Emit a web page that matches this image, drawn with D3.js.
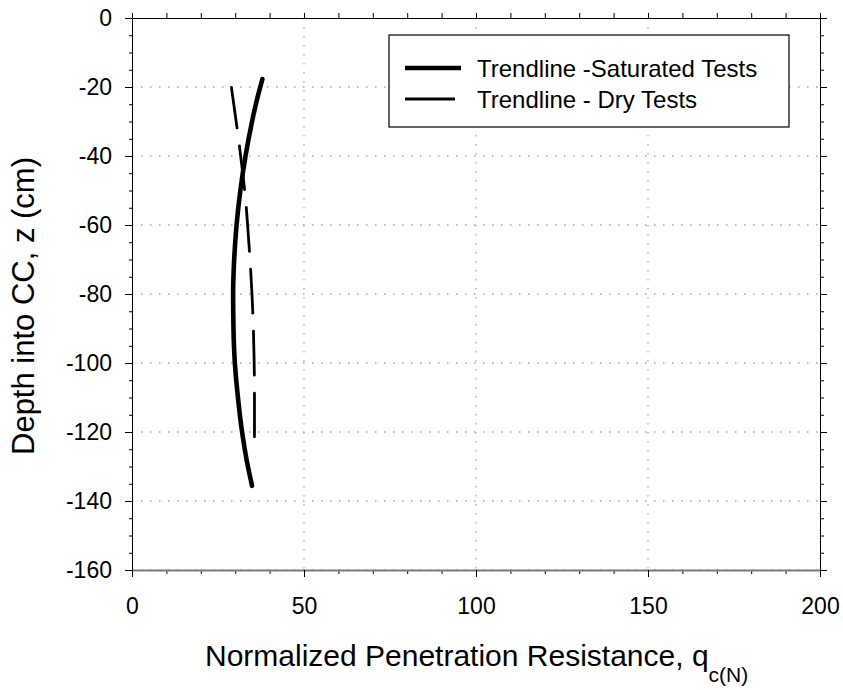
<!DOCTYPE html>
<html>
<head>
<meta charset="utf-8">
<script src="https://cdn.jsdelivr.net/npm/d3@7"></script>
<style>
  body { margin: 0; background: #fff; }
  text { font-family: "Liberation Sans", Arial, sans-serif; fill: #000; }
</style>
</head>
<body>
<div id="chart"></div>
<script>
const satDepth = [-17.7, -25, -30, -40, -50, -60, -70, -80, -90, -100, -110, -120, -128, -135.6];
const satQ     = [37.9, 36.0, 34.9, 33.0, 31.5, 30.4, 29.7, 29.4, 29.5, 29.9, 30.8, 32.0, 33.3, 34.9];

const dryDepth = [-20.1, -32.3, -45, -53.5, -60, -70, -85, -99, -110, -121.4];
const dryQ     = [28.9, 30.6, 32.2, 33.1, 33.6, 34.3, 35.1, 35.5, 35.6, 35.6];

const xTicks = [0, 50, 100, 150, 200];
const yTicks = [0, -20, -40, -60, -80, -100, -120, -140, -160];
const legendLabels = ["Trendline -Saturated Tests", "Trendline - Dry Tests"];

const margin = { top: 18, right: 23, bottom: 120, left: 132 };
const width = 843 - margin.left - margin.right;
const height = 690 - margin.top - margin.bottom;

const svg = d3.select("#chart")
  .append("svg")
  .attr("width", 843)
  .attr("height", 690);

const g = svg.append("g")
  .attr("transform", `translate(${margin.left},${margin.top})`);

const x = d3.scaleLinear().domain([0, 200]).range([0, width]);
const y = d3.scaleLinear().domain([-160, 0]).range([height, 0]);

// dotted grid
g.append("g")
  .selectAll("line")
  .data(yTicks.filter(d => d < 0))
  .enter()
  .append("line")
  .attr("x1", 0).attr("x2", width)
  .attr("y1", d => y(d)).attr("y2", d => y(d))
  .style("stroke", "#a8a8a8")
  .style("stroke-width", 1.3)
  .style("stroke-dasharray", "1.5,7.5");

g.append("g")
  .selectAll("line")
  .data(xTicks.filter(d => d > 0 && d < 200))
  .enter()
  .append("line")
  .attr("x1", d => x(d)).attr("x2", d => x(d))
  .attr("y1", 0).attr("y2", height)
  .style("stroke", "#a8a8a8")
  .style("stroke-width", 1.3)
  .style("stroke-dasharray", "1.5,7.5");

// axes: major + minor ticks on all four sides
const minorX = d3.range(0, 201, 10);
const minorY = d3.range(-160, 1, 5);
const plain = d => String(d);

function styleAxis(sel, color) {
  sel.select(".domain").style("stroke", color);
  sel.selectAll(".tick line").style("stroke", "#000");
  sel.selectAll("text")
    .style("font-size", "23px")
    .style("font-family", "Liberation Sans, Arial, sans-serif");
}

const bottomMinor = g.append("g")
  .attr("transform", `translate(0,${height})`)
  .call(d3.axisBottom(x).tickValues(minorX).tickSize(4).tickFormat(""));
bottomMinor.select(".domain").remove();

const bottomAxis = g.append("g")
  .attr("transform", `translate(0,${height})`)
  .call(d3.axisBottom(x).tickValues(xTicks).tickSize(7).tickSizeOuter(0)
    .tickPadding(21).tickFormat(plain));
styleAxis(bottomAxis, "#7a7a7a");
bottomAxis.select(".domain").style("stroke-width", 2);

const topAxis = g.append("g")
  .call(d3.axisTop(x).tickValues(minorX).tickSize(5).tickSizeOuter(0).tickFormat(""));
styleAxis(topAxis, "#000");

const leftMinor = g.append("g")
  .call(d3.axisLeft(y).tickValues(minorY).tickSize(3).tickFormat(""));
leftMinor.select(".domain").remove();

const leftAxis = g.append("g")
  .call(d3.axisLeft(y).tickValues(yTicks).tickSize(7).tickSizeOuter(0)
    .tickPadding(13).tickFormat(plain));
styleAxis(leftAxis, "#000");

const rightAxis = g.append("g")
  .attr("transform", `translate(${width},0)`)
  .call(d3.axisRight(y).tickValues(minorY).tickSize(4).tickSizeOuter(0).tickFormat(""));
styleAxis(rightAxis, "#000");

g.append("g")
  .attr("transform", `translate(${width},0)`)
  .call(d3.axisRight(y).tickValues(yTicks).tickSize(7).tickFormat(""))
  .select(".domain").remove();

// trendlines
const line = d3.line()
  .x(d => x(d[1]))
  .y(d => y(d[0]))
  .curve(d3.curveMonotoneY);

g.append("path")
  .datum(d3.zip(satDepth, satQ))
  .attr("d", line)
  .style("fill", "none")
  .style("stroke", "#000")
  .style("stroke-width", 4.6)
  .style("stroke-linecap", "round");

g.append("path")
  .datum(d3.zip(dryDepth, dryQ))
  .attr("d", line)
  .style("fill", "none")
  .style("stroke", "#000")
  .style("stroke-width", 2.8)
  .style("stroke-linecap", "round")
  .style("stroke-dasharray", "44,18")
  .style("stroke-dashoffset", 3);

// legend
const legend = svg.append("g").attr("transform", "translate(389,35)");
legend.append("rect")
  .attr("width", 400).attr("height", 92)
  .style("fill", "#fff")
  .style("stroke", "#000")
  .style("stroke-width", 1.2);

const legendWidths = [4.6, 2.8];
const legendLen = [56, 50];
legendLabels.forEach((label, i) => {
  const ly = 33 + i * 31;
  legend.append("line")
    .attr("x1", 16).attr("x2", 16 + legendLen[i])
    .attr("y1", ly).attr("y2", ly)
    .style("stroke", "#000")
    .style("stroke-width", legendWidths[i]);
  legend.append("text")
    .attr("x", 88).attr("y", ly + 9)
    .style("font-size", "24px")
    .text(label);
});

// axis titles
const xTitle = svg.append("text")
  .attr("x", 205).attr("y", 666)
  .style("font-size", "30px");
xTitle.append("tspan").text("Normalized Penetration Resistance, q");
xTitle.append("tspan")
  .attr("dy", 16)
  .style("font-size", "21px")
  .text("c(N)");

svg.append("text")
  .attr("transform", "translate(34,306) rotate(-90)")
  .attr("text-anchor", "middle")
  .style("font-size", "31px")
  .text("Depth into CC, z (cm)");
</script>
</body>
</html>
